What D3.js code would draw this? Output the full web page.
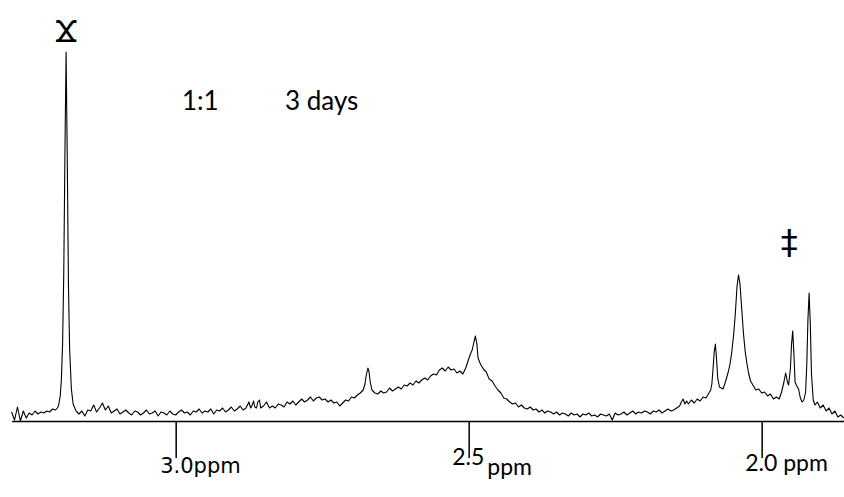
<!DOCTYPE html>
<html><head><meta charset="utf-8">
<script src="https://cdn.jsdelivr.net/npm/d3@7"></script>
<style>html,body{margin:0;padding:0;background:#fff}svg{display:block}</style>
</head><body>
<svg id="chart" width="844" height="497"></svg>
<script>
// Spectrum: [chemical shift (ppm), intensity (a.u.)]
const spectrum = [[3.280,2],[3.275,-6],[3.270,7],[3.265,-7],[3.260,3],[3.255,-4],[3.250,1],[3.245,-1],[3.240,3],[3.235,0],[3.230,2],[3.225,1],[3.220,3],[3.215,2],[3.210,5],[3.205,4],[3.202,6],[3.200,8],[3.197,18],[3.195,35],[3.193,70],[3.191,140],[3.189,260],[3.187,362],[3.185,255],[3.183,130],[3.181,65],[3.178,25],[3.175,10],[3.170,3],
[3.165,0],[3.160,3],[3.155,-2],[3.150,4],[3.145,3],[3.140,9],[3.135,2],[3.130,6],[3.125,11],[3.120,4],[3.115,8],[3.110,1],[3.105,3],[3.100,5],[3.095,0],[3.090,2],[3.085,4],[3.080,1],[3.075,-1],[3.070,3],[3.065,2],[3.060,-1],[3.055,1],[3.050,4],[3.045,0],[3.040,1],[3.035,3],[3.030,-2],[3.025,2],[3.020,1],[3.015,-1],[3.010,3],[3.005,0],[3.000,-1],[2.995,2],[2.990,4],[2.985,1],[2.980,2],[2.975,-1],[2.970,3],[2.965,2],[2.960,5],[2.955,1],[2.950,3],[2.945,2],[2.940,5],[2.935,0],[2.930,4],[2.925,3],[2.920,6],[2.915,2],[2.910,4],[2.905,7],[2.900,3],[2.895,5],[2.890,8],[2.885,4],[2.880,6],
[2.875,12],[2.872,6],[2.870,8],[2.867,13],[2.865,7],[2.862,6],[2.860,12],[2.857,14],[2.855,6],[2.850,8],[2.845,12],[2.840,6],
[2.835,8],[2.830,6],[2.825,10],[2.820,9],[2.815,7],[2.810,12],[2.805,10],[2.800,13],[2.795,9],[2.790,12],[2.785,15],[2.780,12],[2.775,14],[2.770,17],[2.765,13],[2.760,16],[2.755,17],[2.750,14],[2.745,15],[2.740,12],[2.735,14],[2.730,11],[2.725,12],[2.720,8],[2.715,11],[2.710,14],[2.705,13],[2.700,17],[2.695,16],[2.690,19],[2.685,21],[2.680,24],
[2.677,30],[2.675,38],[2.672,46],[2.670,42],[2.668,32],[2.665,24],
[2.660,21],[2.655,20],[2.650,23],[2.645,21],[2.640,22],[2.635,26],[2.630,23],[2.625,25],[2.620,27],[2.615,25],[2.610,29],[2.605,28],[2.600,31],[2.595,29],[2.590,33],[2.585,31],[2.580,34],[2.575,36],[2.570,34],[2.565,38],[2.560,40],[2.555,39],[2.550,44],[2.545,46],[2.540,43],[2.535,47],[2.530,44],[2.525,45],[2.520,41],[2.515,43],[2.510,40],[2.505,46],
[2.500,55],[2.497,60],[2.494,64],[2.491,72],[2.4885,78],[2.486,70],[2.484,56],
[2.480,50],[2.475,45],[2.470,42],[2.465,35],[2.460,33],[2.455,28],[2.450,24],[2.445,21],[2.440,16],[2.435,15],[2.430,12],[2.425,10],[2.420,11],[2.415,7],[2.410,9],[2.405,6],[2.400,5],[2.395,7],[2.390,4],[2.385,5],[2.380,2],[2.375,4],[2.370,1],[2.365,3],[2.360,2],[2.355,0],[2.350,2],[2.345,-1],[2.340,1],[2.335,0],[2.330,-2],[2.325,1],[2.320,-1],[2.315,0],[2.310,-3],[2.305,0],[2.300,-1],[2.295,1],[2.290,-2],[2.285,-1],[2.280,-3],[2.275,0],[2.270,-1],[2.265,-2],[2.260,0],[2.255,-6],[2.250,1],[2.245,-1],[2.240,0],[2.235,2],[2.230,-1],[2.225,1],[2.220,3],[2.215,0],[2.210,2],[2.205,1],[2.200,3],[2.195,2],[2.190,0],[2.185,3],[2.180,2],[2.175,4],[2.170,1],[2.165,3],[2.160,5],[2.155,3],[2.150,4],[2.145,6],[2.140,8],
[2.137,12],[2.134,15],[2.131,10],[2.128,13],[2.125,10],[2.120,14],[2.115,11],[2.110,15],[2.105,13],[2.100,17],[2.095,16],[2.090,21],[2.087,24],
[2.085,30],[2.083,45],[2.081,62],[2.079,70],[2.077,55],[2.075,36],[2.072,27],[2.069,26],[2.066,25],[2.063,30],[2.060,36],[2.057,42],[2.054,50],[2.051,62],[2.048,78],[2.045,100],[2.042,128],[2.0395,139],[2.037,130],[2.034,105],[2.031,80],[2.028,62],[2.025,50],[2.022,40],[2.019,33],
[2.015,29],[2.010,24],[2.005,25],[2.000,21],[1.995,22],[1.990,18],[1.985,20],[1.980,15],[1.975,17],[1.970,15],
[1.966,22],[1.962,32],[1.959,41],[1.956,32],[1.954,29],[1.951,45],[1.949,70],[1.947,83],[1.945,60],[1.943,32],[1.940,28],[1.937,25],[1.934,16],[1.931,12],[1.928,14],[1.925,22],[1.923,50],[1.921,95],[1.919,121],[1.917,90],[1.915,40],[1.912,14],
[1.909,9],[1.905,12],[1.900,6],[1.895,9],[1.890,3],[1.885,6],[1.880,0],[1.875,3],[1.870,-3],[1.865,-1],[1.860,-4]];

const ppmDomain = [3.28, 1.86];
const intensityDomain = [0, 362];
const tickValues = [3.0, 2.5, 2.0];
const tickNumbers = ["3.0", "2.5", "2.0"];
const tickUnit = "ppm";
const markerLabels = ["Ϫ", "‡"];
const markerPpm = [3.187, 1.953];
const notes = ["1:1", "3 days"];

const svg = d3.select("#chart");
const x = d3.scaleLinear().domain(ppmDomain).range([11.6, 843.7]);
const y = d3.scaleLinear().domain(intensityDomain).range([414, 52]);

// axis
const axisG = svg.append("g").attr("transform", "translate(0,421)")
  .call(d3.axisBottom(x).tickValues(tickValues).tickSize(37).tickSizeOuter(0).tickFormat(""));
axisG.select(".domain").attr("stroke", "#000").attr("stroke-width", 1.6);
axisG.selectAll(".tick line").attr("stroke", "#000").attr("stroke-width", 1.5);
axisG.selectAll(".tick text").remove();

// custom tick labels
axisG.selectAll(".tick").each(function(d, i) {
  const g = d3.select(this);
  if (i === 0) {
    g.append("text").attr("x", -16).attr("y", 52)
      .attr("fill", "#000").attr("text-anchor", "start")
      .style("font-family", "'DejaVu Sans', sans-serif").style("font-size", "21px")
      .text(tickNumbers[i] + tickUnit);
  } else if (i === 1) {
    const t = g.append("text").attr("x", -17).attr("y", 44)
      .attr("fill", "#000").attr("text-anchor", "start")
      .style("font-family", "Lato, sans-serif").style("font-size", "23px");
    t.append("tspan").text(tickNumbers[i]);
    t.append("tspan").attr("dx", 3).attr("dy", 10).text(tickUnit);
  } else {
    g.append("text").attr("x", -17).attr("y", 50)
      .attr("fill", "#000").attr("text-anchor", "start")
      .style("font-family", "Lato, sans-serif").style("font-size", "23px")
      .text(tickNumbers[i] + " " + tickUnit);
  }
});

// spectrum line
const line = d3.line().x(d => x(d[0])).y(d => y(d[1]));
svg.append("path").datum(spectrum)
  .attr("d", line).attr("fill", "none").attr("stroke", "#000")
  .attr("stroke-width", 1.1).attr("stroke-linejoin", "round");

// peak markers
svg.append("text").attr("x", x(markerPpm[0])).attr("y", 42)
  .attr("text-anchor", "middle").attr("fill", "#000")
  .style("font-family", "'DejaVu Sans', sans-serif").style("font-size", "31px")
  .text(markerLabels[0]);
svg.append("text").attr("x", x(markerPpm[1])).attr("y", 254)
  .attr("text-anchor", "middle").attr("fill", "#000")
  .style("font-family", "'DejaVu Sans', sans-serif").style("font-size", "34px")
  .text(markerLabels[1]);

// notes
svg.append("text").attr("x", 182).attr("y", 110).attr("fill", "#000")
  .style("font-family", "Lato, sans-serif").style("font-size", "26px").text(notes[0]);
svg.append("text").attr("x", 285).attr("y", 110).attr("fill", "#000")
  .style("font-family", "Lato, sans-serif").style("font-size", "26px").text(notes[1]);
</script>
</body></html>
